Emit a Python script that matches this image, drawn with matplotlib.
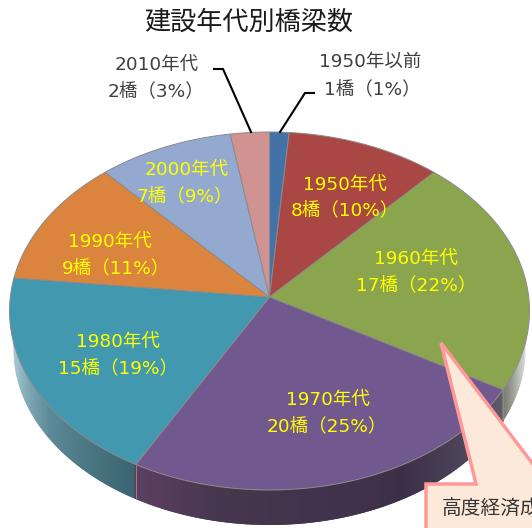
import numpy as np
import matplotlib
matplotlib.use('Agg')
from matplotlib import pyplot as plt
from matplotlib.patches import Polygon
from matplotlib.collections import PolyCollection
from matplotlib.colors import to_rgb

plt.rcParams['font.family'] = ['DejaVu Sans', 'Noto Sans CJK JP']

# data
decades = ['1950年以前', '1950年代', '1960年代', '1970年代', '1980年代', '1990年代', '2000年代', '2010年代']
counts = [1, 8, 17, 20, 15, 9, 7, 2]
percents = [1, 10, 22, 25, 19, 11, 9, 3]
colors = ['#4372a6', '#a94745', '#8ba54f', '#71588f', '#4198af', '#db843d', '#93a9cf', '#d19392']
title = '建設年代別橋梁数'
callout_text = '高度経済成長期'

# pie geometry, pixels
cx, cy = 269.5, 311
rx, ry = 260, 179
apex = (269.5, 297)
bottom_cy, bottom_rx, bottom_ry = 349, 256, 176
skew = 2.7  # view is turned a bit, slices on the right look narrower

# side shading stops: angle (deg clockwise from top), colour
side_stops = [(90, '#f8f9f6'), (100, '#e4e7e0'), (108, '#c0c4bc'), (118.5, '#767870'),
              (118.6, '#5e5a6a'), (150, '#3c3048'), (190, '#46364e'), (209.5, '#5c4062'),
              (209.6, '#3a6470'), (235, '#5c8a96'), (255, '#a0c6d2'), (270, '#e0ecf0')]


def rim(theta):
    t = np.radians(theta - skew * np.sin(np.radians(theta)))
    return cx + rx * np.sin(t), cy - ry * np.cos(t)


def wall_bottom(x, y_top):
    d = (x - cx) / bottom_rx
    if abs(d) >= 1:
        return y_top
    return max(y_top, bottom_cy + bottom_ry * np.sqrt(1 - d ** 2))


fig = plt.figure(figsize=(5.32, 5.28), dpi=100)
ax = fig.add_axes([0, 0, 1, 1])
ax.set_xlim(0, 532)
ax.set_ylim(528, 0)
ax.axis('off')

# side wall
angles = np.linspace(88, 276, 377)
quads = []
quad_cols = []
st_a = [s[0] for s in side_stops]
st_c = np.array([to_rgb(s[1]) for s in side_stops])
for a0, a1 in zip(angles[:-1], angles[2:]):  # overlap so no seams show
    x0, y0 = rim(a0)
    x1, y1 = rim(a1)
    quads.append([(x0, y0), (x1, y1), (x1, wall_bottom(x1, y1)), (x0, wall_bottom(x0, y0))])
    quad_cols.append([np.interp(a0, st_a, st_c[:, i]) for i in range(3)])
ax.add_collection(PolyCollection(quads, facecolors=quad_cols, edgecolors='none'))

# top wedges
edges = np.concatenate([[0], np.cumsum(counts)]) / sum(counts) * 360
for i, col in enumerate(colors):
    th = np.linspace(edges[i], edges[i + 1], 80)
    xs, ys = rim(th)
    pts = [apex] + list(zip(xs, ys))
    ax.add_patch(Polygon(pts, closed=True, facecolor=col, edgecolor='#8a8a8a', linewidth=0.7))

# wall seams between slices
for e in edges:
    if 90 < e < 270:
        x, y = rim(e)
        ax.plot([x, x], [y, wall_bottom(x, y)], color='#8a8a8a', lw=0.7)

# labels
ax.text(249, 23, title, fontsize=18.8, ha='center', va='center', color='#1a1a1a')
label_pos = [None, (345, 185, 345, 210), (416, 259, 416, 285), (328, 400, 327, 426),
             (118, 342, 118, 368), (110, 242, 116, 268), (187, 170, 185, 196), None]
for i, pos in enumerate(label_pos):
    if pos is None:
        continue
    ax.text(pos[0], pos[1], decades[i], color='#ffff00', fontsize=13.3, ha='center', va='center')
    ax.text(pos[2], pos[3], f'{counts[i]}橋（{percents[i]}%）', color='#ffff00', fontsize=13.3, ha='center', va='center')

ax.text(370, 62, decades[0], color='#404040', fontsize=13.3, ha='center', va='center')
ax.text(372, 89, f'{counts[0]}橋（{percents[0]}%）', color='#404040', fontsize=13.3, ha='center', va='center')
ax.text(157, 65, decades[7], color='#404040', fontsize=13.3, ha='center', va='center')
ax.text(156, 91, f'{counts[7]}橋（{percents[7]}%）', color='#404040', fontsize=13.3, ha='center', va='center')

# leader lines
ax.plot([314, 305, 280], [93, 93, 132], color='black', lw=1.5, solid_joinstyle='miter')
ax.plot([214, 223, 251], [69, 69, 132], color='black', lw=1.5, solid_joinstyle='miter')

# callout
ax.add_patch(Polygon([(441, 343), (476, 484), (426, 484), (426, 540), (545, 540), (545, 480)],
                     closed=True, facecolor='#fde9d9', edgecolor='#ff9999', linewidth=2.5, joinstyle='miter'))
ax.text(442, 509, callout_text, fontsize=14.2, ha='left', va='center', color='#333333', clip_on=True)

fig.savefig('out.png', dpi=100)
